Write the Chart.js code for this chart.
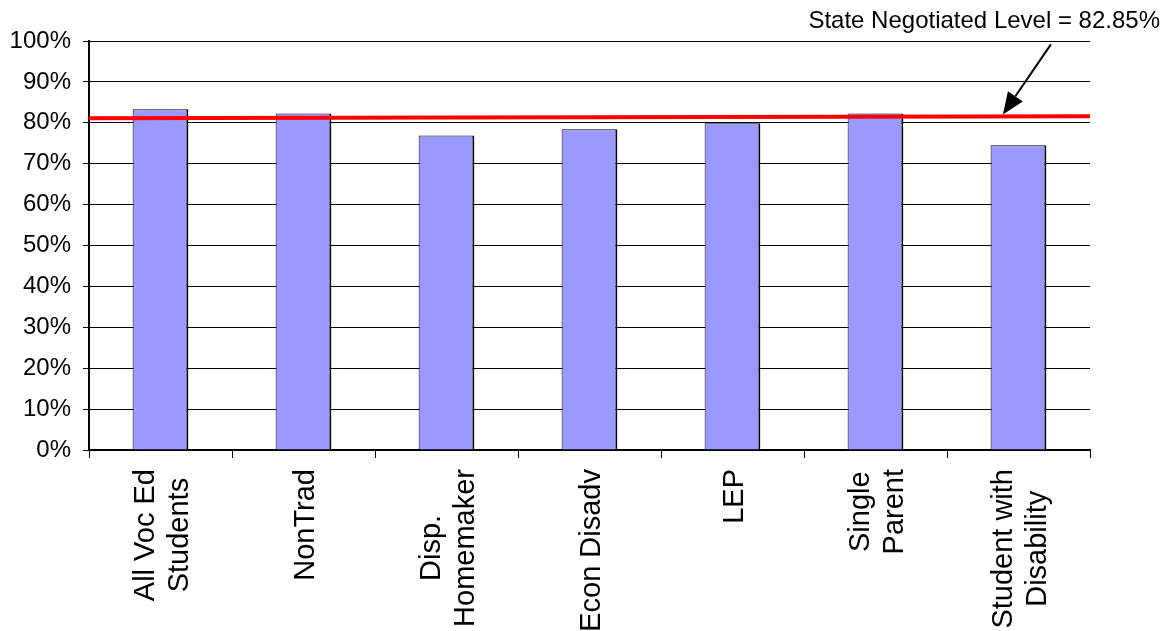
<!DOCTYPE html>
<html lang="en">

<head>
    <meta charset="UTF-8" />
    <title>Voc Ed Completion by Student Group</title>
    <style>
        body {
            margin: 0;
            background: #fff;
        }

        #wrap {
            width: 1169px;
            height: 631px;
        }
    </style>
</head>

<body>
    <div id="wrap"><canvas id="chart" width="1169" height="631"></canvas></div>

    <script src="https://cdn.jsdelivr.net/npm/chart.js"></script>
    <script>
        // Data
        const groups = [
            ['All Voc Ed', 'Students'],
            ['NonTrad'],
            ['Disp.', 'Homemaker'],
            ['Econ Disadv'],
            ['LEP'],
            ['Single', 'Parent'],
            ['Student with', 'Disability']
        ];
        const rates = [83.3, 82.3, 76.9, 78.4, 79.9, 82.3, 74.5];

        // red reference line, drawn across the full plot width (0 = left edge, 1 = right edge)
        const levelLine = [{ x: 0, y: 81.1 }, { x: 1, y: 81.6 }];
        const levelText = 'State Negotiated Level = 82.85%';
        const arrowAt = 0.913;   // where the arrow hits the red line

        const yTicks = [0, 10, 20, 30, 40, 50, 60, 70, 80, 90, 100];

        const FONT = "'Liberation Sans', Arial, sans-serif";

        // Draws the rotated two-line category labels, centred on each bar
        const groupLabels = {
            id: 'groupLabels',
            afterDraw(chart) {
                const ctx = chart.ctx;
                const xs = chart.scales.x;
                const size = 29;
                const pitch = 34;
                ctx.save();
                ctx.font = size + 'px ' + FONT;
                ctx.fillStyle = '#000';
                ctx.textAlign = 'center';
                ctx.textBaseline = 'alphabetic';
                groups.forEach((lines, i) => {
                    const cx = xs.getPixelForValue(i);
                    const longest = Math.max(...lines.map(l => ctx.measureText(l).width));
                    const midY = xs.top + 19 + longest / 2;
                    lines.forEach((line, j) => {
                        const off = (j - (lines.length - 1) / 2) * pitch + size * 0.36;
                        ctx.save();
                        ctx.translate(cx + off, midY);
                        ctx.rotate(-Math.PI / 2);
                        ctx.fillText(line, 0, 0);
                        ctx.restore();
                    });
                });
                ctx.restore();
            }
        };

        // Note text at top right with an arrow pointing down to the red line
        const levelNote = {
            id: 'levelNote',
            afterDraw(chart) {
                const ctx = chart.ctx;
                const x2 = chart.scales.x2;
                const ys = chart.scales.y;
                const a = levelLine[0], b = levelLine[1];
                const v = a.y + (b.y - a.y) * (arrowAt - a.x) / (b.x - a.x);
                const tipX = x2.getPixelForValue(arrowAt);
                const tipY = ys.getPixelForValue(v) - 2;
                const tailX = tipX + 48, tailY = tipY - 70;

                ctx.save();
                ctx.fillStyle = '#000';
                ctx.font = '24px ' + FONT;
                ctx.textAlign = 'right';
                ctx.textBaseline = 'alphabetic';
                ctx.fillText(levelText, chart.width - 9, 28);

                const ang = Math.atan2(tipY - tailY, tipX - tailX);
                const headLen = 22, headW = 9;
                const bx = tipX - headLen * Math.cos(ang), by = tipY - headLen * Math.sin(ang);
                ctx.strokeStyle = '#000';
                ctx.lineWidth = 2;
                ctx.beginPath();
                ctx.moveTo(tailX, tailY);
                ctx.lineTo(bx, by);
                ctx.stroke();
                ctx.beginPath();
                ctx.moveTo(tipX, tipY);
                ctx.lineTo(bx + headW * Math.sin(ang), by - headW * Math.cos(ang));
                ctx.lineTo(bx - headW * Math.sin(ang), by + headW * Math.cos(ang));
                ctx.closePath();
                ctx.fill();
                ctx.restore();
            }
        };

        const ctx = document.getElementById('chart').getContext('2d');
        new Chart(ctx, {
            type: 'bar',
            data: {
                labels: groups,
                datasets: [{
                    type: 'line',
                    data: levelLine,
                    xAxisID: 'x2',
                    borderColor: '#ff0000',
                    borderWidth: 4,
                    pointRadius: 0,
                    order: 0
                }, {
                    data: rates,
                    grouped: false,
                    backgroundColor: '#9999ff',
                    borderColor: '#000',
                    borderWidth: { top: 1, left: 1, right: 2, bottom: 0 },
                    borderSkipped: false,
                    barPercentage: 0.39,
                    categoryPercentage: 1,
                    order: 1
                }]
            },
            options: {
                responsive: false,
                animation: false,
                layout: { padding: { top: 41, right: 79, left: 0, bottom: 0 } },
                plugins: {
                    legend: { display: false },
                    tooltip: { enabled: false }
                },
                scales: {
                    x: {
                        offset: true,
                        grid: {
                            offset: true,
                            drawOnChartArea: false,
                            tickLength: 8,
                            color: '#000'
                        },
                        border: { color: '#000', width: 2 },
                        ticks: { display: false },
                        afterFit: s => { s.height = 181; }
                    },
                    x2: {
                        type: 'linear',
                        min: 0,
                        max: 1,
                        offset: false,
                        grid: { offset: false },
                        display: false
                    },
                    y: {
                        min: 0,
                        max: 100,
                        afterBuildTicks: s => { s.ticks = yTicks.map(v => ({ value: v })); },
                        ticks: {
                            callback: v => v + '%',
                            color: '#000',
                            padding: 12,
                            font: { family: FONT, size: 24 }
                        },
                        grid: { color: '#000', tickLength: 6 },
                        border: { color: '#000', width: 2 },
                        afterFit: s => { s.width = 89; }
                    }
                }
            },
            plugins: [groupLabels, levelNote]
        });
    </script>
</body>

</html>
